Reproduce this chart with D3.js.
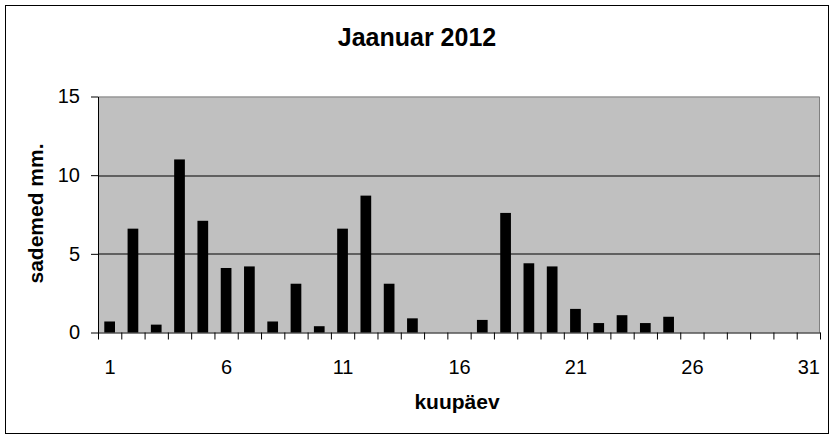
<!DOCTYPE html>
<html>
<head>
<meta charset="utf-8">
<script src="https://cdn.jsdelivr.net/npm/d3@7"></script>
<style>
  body { margin: 0; background: #fff; }
  text { font-family: Arial, "Liberation Sans", sans-serif; }
</style>
</head>
<body>
<svg id="chart" width="834" height="438"></svg>
<script>
// January 2012 daily precipitation (mm)
const days = d3.range(1, 32);
const precipitation = [0.7, 6.6, 0.5, 11.0, 7.1, 4.1, 4.2, 0.7, 3.1, 0.4,
                       6.6, 8.7, 3.1, 0.9, 0, 0, 0.8, 7.6, 4.4, 4.2,
                       1.5, 0.6, 1.1, 0.6, 1.0, 0, 0, 0, 0, 0, 0];
const xTickLabels = [1, 6, 11, 16, 21, 26, 31];
const yTicks = [0, 5, 10, 15];
const titleText = "Jaanuar 2012";
const xTitle = "kuupäev";
const yTitle = "sademed mm.";

const svg = d3.select("#chart");

const margin = { top: 96.5, right: 14, bottom: 105.5, left: 98 },
      width = 834 - margin.left - margin.right,
      height = 438 - margin.top - margin.bottom;

// outer chart border
svg.append("rect")
  .attr("x", 5.5).attr("y", 5.5)
  .attr("width", 823).attr("height", 428)
  .attr("fill", "#fff")
  .attr("stroke", "#000")
  .attr("stroke-width", 1);

const g = svg.append("g")
  .attr("transform", `translate(${margin.left},${margin.top})`);

const x = d3.scaleLinear().domain([0.5, 31.5]).range([0, width]);
const y = d3.scaleLinear().domain([0, 15]).range([height, 0]);

// plot area
g.append("rect")
  .attr("width", width).attr("height", height)
  .attr("fill", "#c0c0c0");
g.append("path")
  .attr("d", `M0,0.5H${width - 0.5}V${height}`)
  .attr("fill", "none")
  .attr("stroke", "#808080");

// gridlines
g.selectAll(".grid")
  .data(yTicks.filter(d => d > 0 && d < 15))
  .enter().append("line")
  .attr("x1", 0).attr("x2", width)
  .attr("y1", d => Math.round(y(d)) + 0.5)
  .attr("y2", d => Math.round(y(d)) + 0.5)
  .attr("stroke", "#000");

// bars
const barWidth = (x(2) - x(1)) * 0.46;
g.selectAll(".bar")
  .data(days)
  .enter().append("rect")
  .attr("class", "bar")
  .attr("x", d => x(d) - barWidth / 2)
  .attr("width", barWidth)
  .attr("y", (d, i) => y(precipitation[i]))
  .attr("height", (d, i) => height - y(precipitation[i]))
  .attr("fill", "#000");

// y axis
g.append("g")
  .call(d3.axisLeft(y).tickValues(yTicks).tickSize(7).tickPadding(11).tickSizeOuter(0))
  .call(a => a.selectAll("line, path").attr("stroke", "#000"))
  .call(a => a.selectAll("text").attr("font-size", 20).attr("fill", "#000"));

// x axis: ticks at day boundaries
g.append("g")
  .attr("transform", `translate(0,${height})`)
  .call(d3.axisBottom(x).tickValues(d3.range(0.5, 32, 1)).tickSize(7).tickFormat("").tickSizeOuter(0))
  .call(a => a.selectAll("line, path").attr("stroke", "#000"));

// x axis labels
g.append("g")
  .attr("transform", `translate(0,${height})`)
  .call(d3.axisBottom(x).tickValues(xTickLabels).tickSize(0).tickPadding(27))
  .call(a => a.select(".domain").remove())
  .call(a => a.selectAll("text").attr("font-size", 20).attr("fill", "#000"));

// titles
svg.append("text")
  .attr("x", 417).attr("y", 46)
  .attr("text-anchor", "middle")
  .attr("font-size", 25).attr("font-weight", "bold")
  .text(titleText);

svg.append("text")
  .attr("x", 457).attr("y", 409)
  .attr("text-anchor", "middle")
  .attr("font-size", 21).attr("font-weight", "bold")
  .text(xTitle);

svg.append("text")
  .attr("transform", "translate(43,213.5) rotate(-90)")
  .attr("text-anchor", "middle")
  .attr("font-size", 21).attr("font-weight", "bold")
  .text(yTitle);
</script>
</body>
</html>
